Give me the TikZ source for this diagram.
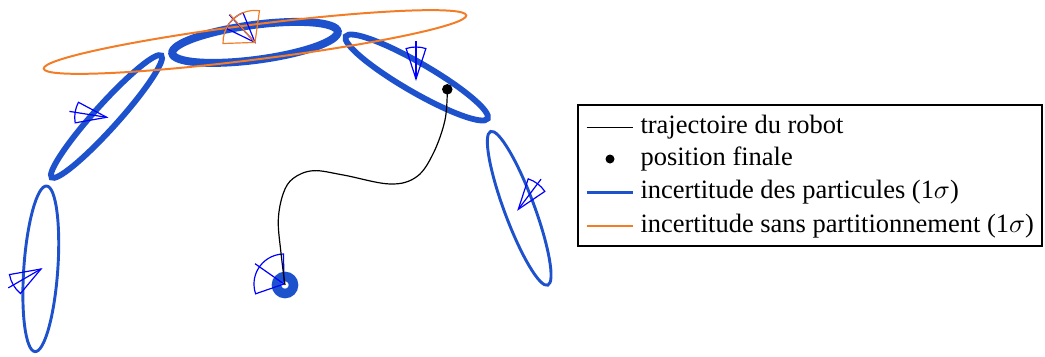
\documentclass[tikz,border=0pt]{standalone}
\usepackage{fontspec}
\setmainfont{Liberation Serif}
\definecolor{partblue}{RGB}{30,82,204}
\definecolor{globorange}{RGB}{242,125,38}
% cone de cap : [couleur]{apex}{cap}{demi-ouverture}{rayon}
\newcommand{\dircone}[5][blue]{%
  \draw[#1, line width=0.45pt] (#2) -- ++(#3-#4:#5) arc[start angle=#3-#4, end angle=#3+#4, radius=#5] -- cycle;
  \draw[#1, line width=0.45pt] (#2) -- ++(#3:#5*1.18);
}
\begin{document}
\begin{tikzpicture}[x=0.1327cm, y=0.1327cm, every node/.style={inner sep=0pt}]
	\useasboundingbox (0,0) rectangle (104.5,35.6);
	
	% 1. ellipses des particules
	\draw[partblue, line width=1.1pt, rotate around={86:(4.08,8.72)}] (4.08,8.72) ellipse (8.3 and 1.7);
	\draw[partblue, line width=2.2pt, rotate around={48:(10.65,23.95)}] (10.65,23.95) ellipse (8.2 and 1.2);
	\draw[partblue, line width=3pt, rotate around={7.5:(25.5,31.36)}] (25.5,31.36) ellipse (8.35 and 1.75);
	\draw[partblue, line width=2.2pt, rotate around={-30.1:(41.67,27.85)}] (41.67,27.85) ellipse (8.2 and 1.45);
	\draw[partblue, line width=1.1pt, rotate around={110.4:(51.92,14.77)}] (51.92,14.77) ellipse (8.2 and 1.5);
	\draw[partblue, line width=3.6pt] (28.5,7.1) circle (0.85);
	
	% 2. ellipse sans partitionnement
	\draw[globorange, line width=0.75pt, rotate around={7.2:(25.5,31.4)}] (25.5,31.4) ellipse (21.3 and 1.75);
	
	% 3. cones de cap
	\coordinate (p1) at (4.1,8.7);
	\coordinate (p2) at (10.67,23.87);
	\coordinate (p3) at (25.5,31.36);
	\coordinate (p4) at (41.6,27.7);
	\coordinate (p5) at (51.83,14.67);
	\coordinate (start) at (28.4,7.2);
	\dircone{p1}{210}{20}{3.2}
	\dircone{p2}{171}{19}{3.2}
	\dircone{p3}{133}{21}{3.2}
	\dircone[globorange]{p3}{132}{50}{3.2}
	\dircone{p4}{90}{18}{3.2}
	\dircone{p5}{53}{19}{3.2}
	\dircone{start}{145}{54}{3.0}
	
	% 4. trajectoire et position finale
	\node[circle, fill=black, minimum size=0.14cm] (fin) at (44.73,26.67) {};
	\draw[black, line width=0.45pt] plot[smooth, tension=0.6] coordinates {(28.5,7.1) (28.1,10.3) (27.83,13.6) (28.33,16.27) (29.33,17.77) (31.33,18.53) (34.33,18.1) (39,17.2) (41.67,17.93) (43.33,20.27) (44.5,23.6) (44.73,26.67)};
	
	% 5. legende
	\draw[line width=0.4pt] (57.8,11.0) rectangle (104.2,25.1);
	\node[anchor=base west] (legtraj) at (64.0,22.27) {trajectoire du robot};
	\node[anchor=base west] (legfin) at (64.0,19.1) {position finale};
	\node[anchor=base west] (legpart) at (64.0,15.77) {incertitude des particules (1$\sigma$)};
	\node[anchor=base west] (legglob) at (64.0,12.4) {incertitude sans partitionnement (1$\sigma$)};
	\draw[black, line width=0.45pt] (58.67,22.87) -- (63.33,22.87);
	\fill[black] (61.0,19.7) circle (0.45);
	\draw[partblue, line width=1.1pt] (58.67,16.37) -- (63.33,16.37);
	\draw[globorange, line width=0.75pt] (58.67,13.0) -- (63.33,13.0);
\end{tikzpicture}
\end{document}
